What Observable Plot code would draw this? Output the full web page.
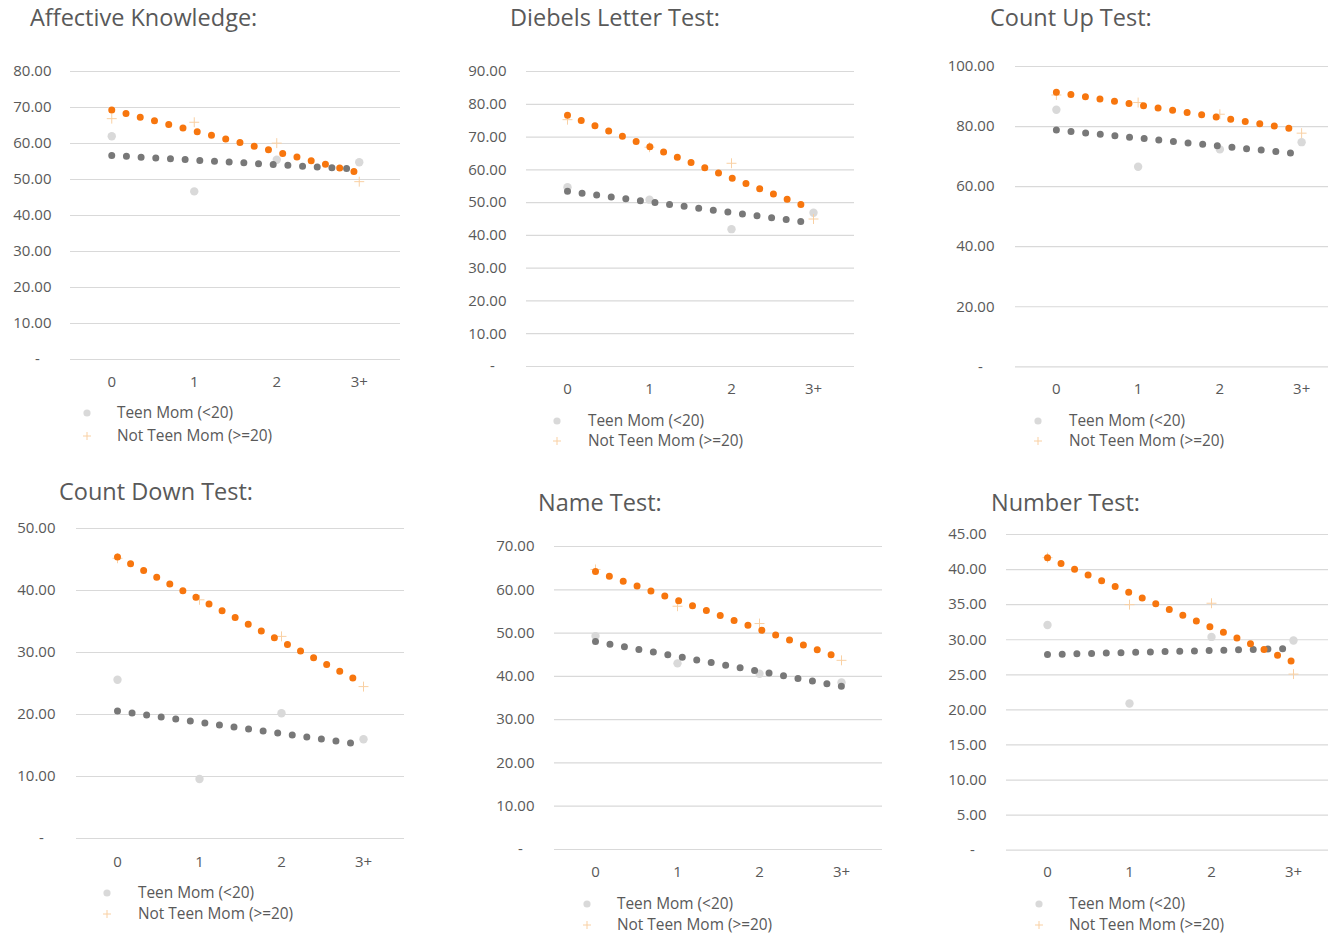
<!DOCTYPE html>
<html>
<head>
<meta charset="utf-8">
<script src="https://cdn.jsdelivr.net/npm/d3@7"></script>
<script src="https://cdn.jsdelivr.net/npm/@observablehq/plot@0.6"></script>
<style>
  body { margin: 0; background: #fff; }
  #wrap { position: relative; width: 1328px; height: 937px; overflow: hidden; font-family: "Open Sans", sans-serif; color: #595959; }
  .panel { position: absolute; }
  .title { position: absolute; font-size: 23.5px; line-height: 1; white-space: nowrap; color: #595959; transform: translateY(-50%); }
  .leg { position: absolute; font-size: 15.4px; line-height: 1; white-space: nowrap; color: #595959; transform: translateY(-50%); }
  .sym { position: absolute; }
</style>
</head>
<body>
<div id="wrap"></div>
<script>
// ---------- data ----------
const categories = ["0", "1", "2", "3+"];
const categoryIndex = [0, 1, 2, 3];
const seriesNames = ["Teen Mom (<20)", "Not Teen Mom (>=20)"];
const titles = ["Affective Knowledge:", "Diebels Letter Test:", "Count Up Test:", "Count Down Test:", "Name Test:", "Number Test:"];

const affectiveTeen    = [62.0, 46.7, 55.5, 54.8];
const affectiveNotTeen = [66.9, 65.9, 60.1, 49.4];
const diebelsTeen      = [54.7, 50.9, 41.9, 46.9];
const diebelsNotTeen   = [75.3, 66.9, 62.0, 45.0];
const countUpTeen      = [85.6, 66.6, 72.4, 74.8];
const countUpNotTeen   = [90.5, 88.0, 84.1, 77.8];
const countDownTeen    = [25.6, 9.6, 20.2, 16.0];
const countDownNotTeen = [45.2, 38.5, 32.6, 24.5];
const nameTeen         = [49.3, 43.0, 40.6, 38.6];
const nameNotTeen      = [64.7, 56.2, 52.2, 43.7];
const numberTeen       = [32.1, 20.9, 30.4, 29.9];
const numberNotTeen    = [41.7, 35.0, 35.2, 25.1];

const affectiveTicks = [0, 10, 20, 30, 40, 50, 60, 70, 80];
const diebelsTicks   = [0, 10, 20, 30, 40, 50, 60, 70, 80, 90];
const countUpTicks   = [0, 20, 40, 60, 80, 100];
const countDownTicks = [0, 10, 20, 30, 40, 50];
const nameTicks      = [0, 10, 20, 30, 40, 50, 60, 70];
const numberTicks    = [0, 5, 10, 15, 20, 25, 30, 35, 40, 45];

// ---------- layout (pixel positions of each panel) ----------
const layouts = [
  {gx0: 70,   gx1: 400,  yTop: 71,    yBot: 359,   labelRight: 51,  xLabY: 381, symX: 87,   txtX: 117,  legY1: 413, legY2: 436, titleX: 30,  titleY: 18},
  {gx0: 526,  gx1: 854,  yTop: 71,    yBot: 366,   labelRight: 506, xLabY: 388, symX: 557,  txtX: 588,  legY1: 421, legY2: 441, titleX: 510, titleY: 18},
  {gx0: 1015, gx1: 1342, yTop: 65.7,  yBot: 366,   labelRight: 994, xLabY: 388, symX: 1038, txtX: 1069, legY1: 421, legY2: 441, titleX: 990, titleY: 18},
  {gx0: 76,   gx1: 404,  yTop: 528,   yBot: 838,   labelRight: 55,  xLabY: 861, symX: 107,  txtX: 138,  legY1: 893, legY2: 914, titleX: 59,  titleY: 492},
  {gx0: 554,  gx1: 882,  yTop: 546.3, yBot: 849.3, labelRight: 534, xLabY: 872, symX: 587,  txtX: 617,  legY1: 904, legY2: 925, titleX: 538, titleY: 503},
  {gx0: 1006, gx1: 1334, yTop: 534.3, yBot: 850,   labelRight: 986, xLabY: 872, symX: 1039, txtX: 1069, legY1: 904, legY2: 925, titleX: 991, titleY: 503}
];

const panels = [
  {teen: affectiveTeen, notTeen: affectiveNotTeen, ticks: affectiveTicks},
  {teen: diebelsTeen,   notTeen: diebelsNotTeen,   ticks: diebelsTicks},
  {teen: countUpTeen,   notTeen: countUpNotTeen,   ticks: countUpTicks},
  {teen: countDownTeen, notTeen: countDownNotTeen, ticks: countDownTicks},
  {teen: nameTeen,      notTeen: nameNotTeen,      ticks: nameTicks},
  {teen: numberTeen,    notTeen: numberNotTeen,    ticks: numberTicks}
];

const GRID = "#d9d9d9";
const TEEN_PT = "#d9d9d9";
const NOT_TEEN_PT = "#f9d0a3";
const TEEN_TREND = "#787878";
const NOT_TEEN_TREND = "#f7760e";
const TEXT = "#595959";

const wrap = document.getElementById("wrap");

function yFormat(d) { return d === 0 ? "-\u00a0\u00a0\u00a0" : d.toFixed(2); }

panels.forEach((p, i) => {
  const L = layouts[i];
  const mLeft = 75, mTop = 12, mBottom = 40, mRight = 2;
  const width = (L.gx1 - L.gx0) + mLeft + mRight;
  const height = (L.yBot - L.yTop) + mTop + mBottom;
  const teenRows = categoryIndex.map(k => ({x: k, y: p.teen[k]}));
  const notTeenRows = categoryIndex.map(k => ({x: k, y: p.notTeen[k]}));
  const yMax = p.ticks[p.ticks.length - 1];

  const svg = Plot.plot({
    width, height,
    marginLeft: mLeft, marginRight: mRight, marginTop: mTop, marginBottom: mBottom,
    style: {fontFamily: "'Open Sans', sans-serif", fontSize: "15px", color: TEXT, background: "transparent"},
    x: {type: "linear", domain: [-0.5, 3.5]},
    y: {domain: [0, yMax]},
    marks: [
      Plot.gridY(p.ticks, {stroke: GRID, strokeOpacity: 1, strokeWidth: 1.2}),
      Plot.axisY(p.ticks, {tickSize: 0, tickPadding: L.gx0 - L.labelRight, tickFormat: yFormat, fill: TEXT, label: null}),
      Plot.axisX(categoryIndex, {tickSize: 0, tickPadding: (L.xLabY - L.yBot) - 5.5, tickFormat: k => categories[k], fill: TEXT, label: null}),
      Plot.dot(teenRows, {x: "x", y: "y", r: 4.2, fill: TEEN_PT}),
      Plot.dot(notTeenRows, {x: "x", y: "y", r: 3.3, symbol: "plus", stroke: NOT_TEEN_PT, strokeWidth: 1}),
      Plot.linearRegressionY(teenRows, {x: "x", y: "y", ci: 0, stroke: TEEN_TREND, strokeWidth: 7, strokeDasharray: "0 14.7", strokeLinecap: "round"}),
      Plot.linearRegressionY(notTeenRows, {x: "x", y: "y", ci: 0, stroke: NOT_TEEN_TREND, strokeWidth: 7, strokeDasharray: "0 14.7", strokeLinecap: "round"})
    ]
  });
  svg.classList.add("panel");
  svg.style.left = (L.gx0 - mLeft) + "px";
  svg.style.top = (L.yTop - mTop) + "px";
  wrap.appendChild(svg);

  const t = document.createElement("div");
  t.className = "title";
  t.textContent = titles[i];
  t.style.left = L.titleX + "px";
  t.style.top = L.titleY + "px";
  wrap.appendChild(t);

  // legend
  const legendSvg = d3.create("svg").attr("class", "sym")
    .attr("width", 16).attr("height", 40)
    .style("left", (L.symX - 8) + "px").style("top", (L.legY1 - 8) + "px");
  legendSvg.append("circle").attr("cx", 8).attr("cy", 8).attr("r", 3.6).attr("fill", TEEN_PT);
  const py = 8 + (L.legY2 - L.legY1);
  legendSvg.append("path").attr("d", `M4,${py}H12M8,${py - 4}V${py + 4}`).attr("stroke", NOT_TEEN_PT).attr("stroke-width", 1).attr("fill", "none");
  wrap.appendChild(legendSvg.node());

  [L.legY1, L.legY2].forEach((ly, j) => {
    const d = document.createElement("div");
    d.className = "leg";
    d.textContent = seriesNames[j];
    d.style.left = L.txtX + "px";
    d.style.top = ly + "px";
    wrap.appendChild(d);
  });
});
</script>
</body>
</html>
